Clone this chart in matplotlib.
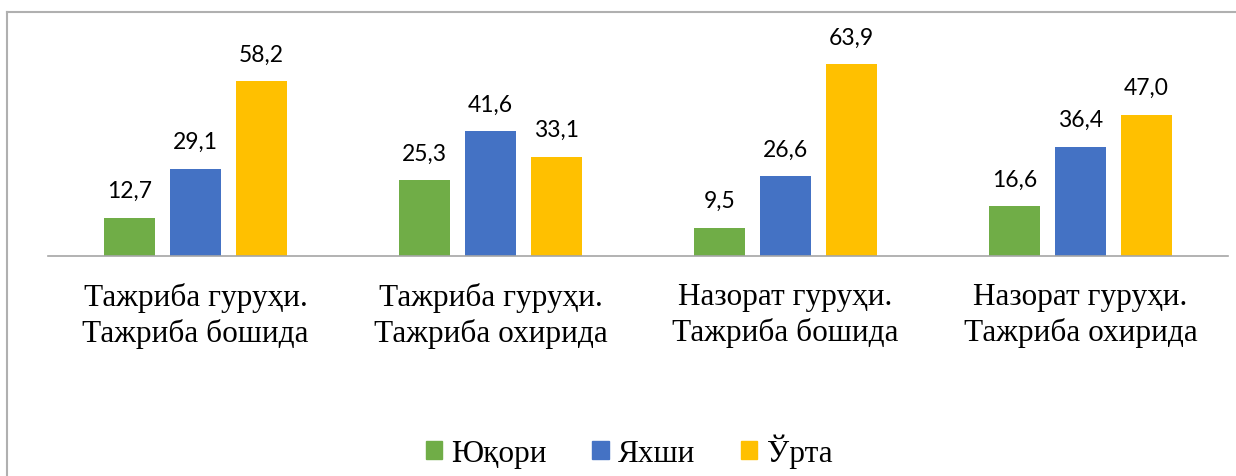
import numpy as np
import matplotlib.pyplot as plt
from matplotlib.lines import Line2D
from matplotlib.patches import Patch

categories = ["Тажриба гуруҳи.\nТажриба бошида", "Тажриба гуруҳи.\nТажриба охирида",
              "Назорат гуруҳи.\nТажриба бошида", "Назорат гуруҳи.\nТажриба охирида"]
series_names = ["Юқори", "Яхши", "Ўрта"]
yuqori = [12.7, 25.3, 9.5, 16.6]
yakhshi = [29.1, 41.6, 26.6, 36.4]
urta = [58.2, 33.1, 63.9, 47.0]

colors = ["#70AD47", "#4472C4", "#FFC000"]
W, H = 1236, 477

fig = plt.figure(figsize=(W / 100, H / 100), dpi=100)
ax = fig.add_axes([48 / W, 1 - 257 / H, 1180 / W, 210 / H])

x = np.arange(len(categories))
width = 0.173
step = 0.2237
for i, (vals, col) in enumerate(zip([yuqori, yakhshi, urta], colors)):
    bars = ax.bar(x + (i - 1) * step, vals, width, color=col, label=series_names[i])
    for b, v in zip(bars, vals):
        ax.annotate(f"{v:.1f}".replace(".", ","), (b.get_x() + b.get_width() / 2, v),
                    xytext=(0, 12), textcoords="offset points", ha="center", va="bottom",
                    fontsize=16.5, family="Lato", color="#000000")

ax.set_xlim(-0.5, len(categories) - 0.5)
ax.set_ylim(0, 70)
ax.set_yticks([])
ax.set_xticks(x)
ax.set_xticklabels(categories, fontsize=22.5, family="Liberation Serif", linespacing=1.25)
ax.tick_params(axis="x", length=0, pad=19)
for s in ["top", "left", "right"]:
    ax.spines[s].set_visible(False)
ax.spines["bottom"].set_color("#A6A6A6")
ax.spines["bottom"].set_linewidth(1.2)

# chart border (partly cut off by the image)
fig.add_artist(Line2D([7 / W, 1], [1 - 13 / H, 1 - 13 / H], color="#B0B0B0", lw=1.5))
fig.add_artist(Line2D([7 / W, 7 / W], [0, 1 - 13 / H], color="#B0B0B0", lw=1.5))

handles = [Patch(color=c, label=n) for c, n in zip(colors, series_names)]
fig.legend(handles=handles, loc="center", bbox_to_anchor=(629 / W, 1 - 452 / H), ncol=3,
           frameon=False, prop={"family": "Liberation Serif", "size": 22.5},
           handlelength=0.53, handleheight=0.53, handletextpad=0.3, columnspacing=1.45)

fig.savefig("out.png", dpi=100, facecolor="white")
